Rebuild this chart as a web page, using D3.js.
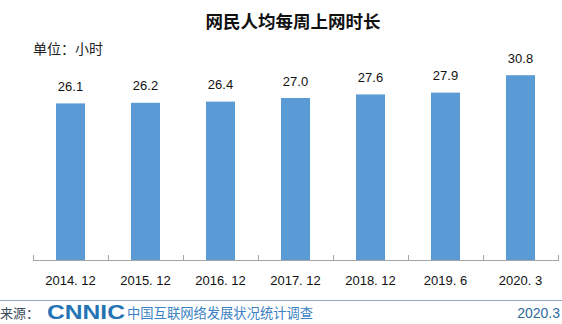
<!DOCTYPE html>
<html>
<head>
<meta charset="utf-8">
<script src="https://cdn.jsdelivr.net/npm/d3@7"></script>
<style>
  body { margin: 0; background: #fff; }
  svg { display: block; }
</style>
</head>
<body>
<script>
let categories = ["2014. 12", "2015. 12", "2016. 12", "2017. 12", "2018. 12", "2019. 6", "2020. 3"];
let hours = [26.1, 26.2, 26.4, 27.0, 27.6, 27.9, 30.8];
let title = "网民人均每周上网时长";
let unitLabel = "单位：小时";

let W = 562, H = 324;
let margin = { left: 33, right: 4, top: 50, baseline: 260 };

let svg = d3.select("body").append("svg")
  .attr("width", W)
  .attr("height", H);

let x = d3.scaleBand()
  .domain(categories)
  .range([margin.left, W - margin.right])
  .paddingInner(0.613)
  .paddingOuter(0.3065);

let y = d3.scaleLinear()
  .domain([0, 35])
  .range([margin.baseline, margin.baseline - 35 * 6]);

// title + unit
svg.append("text")
  .attr("x", 293).attr("y", 28)
  .attr("text-anchor", "middle")
  .attr("font-family", "Noto Sans CJK SC")
  .attr("font-weight", "bold")
  .attr("font-size", 17.5)
  .attr("fill", "#111")
  .text(title);

svg.append("text")
  .attr("x", 33).attr("y", 54)
  .attr("font-family", "Noto Sans CJK SC")
  .attr("font-size", 14)
  .attr("fill", "#222")
  .text(unitLabel);

// bars
svg.append("g").selectAll("rect")
  .data(hours)
  .join("rect")
  .attr("x", (d, i) => x(categories[i]))
  .attr("y", d => y(d))
  .attr("width", x.bandwidth())
  .attr("height", d => y(0) - y(d))
  .attr("fill", "#5b9bd5");

svg.append("g").selectAll("text")
  .data(hours)
  .join("text")
  .attr("x", (d, i) => x(categories[i]) + x.bandwidth() / 2)
  .attr("y", d => y(d) - 12.5)
  .attr("text-anchor", "middle")
  .attr("font-family", "Liberation Sans")
  .attr("font-size", 13)
  .attr("fill", "#111")
  .text(d => d.toFixed(1));

// category axis, ticks between bands
let step = x.step();
let bounds = d3.range(categories.length + 1).map(i => margin.left + i * step);
let axis = svg.append("g").attr("stroke", "#a6a6a6").attr("stroke-width", 1);
axis.append("line")
  .attr("x1", margin.left).attr("x2", W - margin.right)
  .attr("y1", y(0) + 0.5).attr("y2", y(0) + 0.5);
axis.selectAll("line.tick")
  .data(bounds)
  .join("line")
  .attr("class", "tick")
  .attr("x1", d => Math.round(d) + 0.5).attr("x2", d => Math.round(d) + 0.5)
  .attr("y1", y(0) - 5).attr("y2", y(0) + 1);

svg.append("g").selectAll("text")
  .data(categories)
  .join("text")
  .attr("x", d => x(d) + x.bandwidth() / 2)
  .attr("y", 284.5)
  .attr("text-anchor", "middle")
  .attr("font-family", "Liberation Sans")
  .attr("font-size", 13)
  .attr("fill", "#111")
  .text(d => d);

// footer
svg.append("line")
  .attr("x1", 0).attr("x2", W)
  .attr("y1", 300.5).attr("y2", 300.5)
  .attr("stroke", "#8fa9c4").attr("stroke-width", 1);

svg.append("text")
  .attr("x", 0).attr("y", 318)
  .attr("font-family", "Noto Sans CJK SC")
  .attr("font-size", 13)
  .attr("fill", "#3a4a5a")
  .text("来源：");

svg.append("text")
  .attr("x", 47).attr("y", 319)
  .attr("font-family", "Liberation Sans")
  .attr("font-weight", "bold")
  .attr("font-size", 19.5)
  .attr("textLength", 78)
  .attr("lengthAdjust", "spacingAndGlyphs")
  .attr("fill", "#2474b5")
  .text("CNNIC");

svg.append("text")
  .attr("x", 127).attr("y", 318)
  .attr("font-family", "Noto Sans CJK SC")
  .attr("font-size", 13.3)
  .attr("fill", "#3b82c4")
  .text("中国互联网络发展状况统计调查");

svg.append("text")
  .attr("x", 560).attr("y", 318)
  .attr("text-anchor", "end")
  .attr("font-family", "Liberation Sans")
  .attr("font-size", 14)
  .attr("fill", "#2e6a9a")
  .text("2020.3");
</script>
</body>
</html>
